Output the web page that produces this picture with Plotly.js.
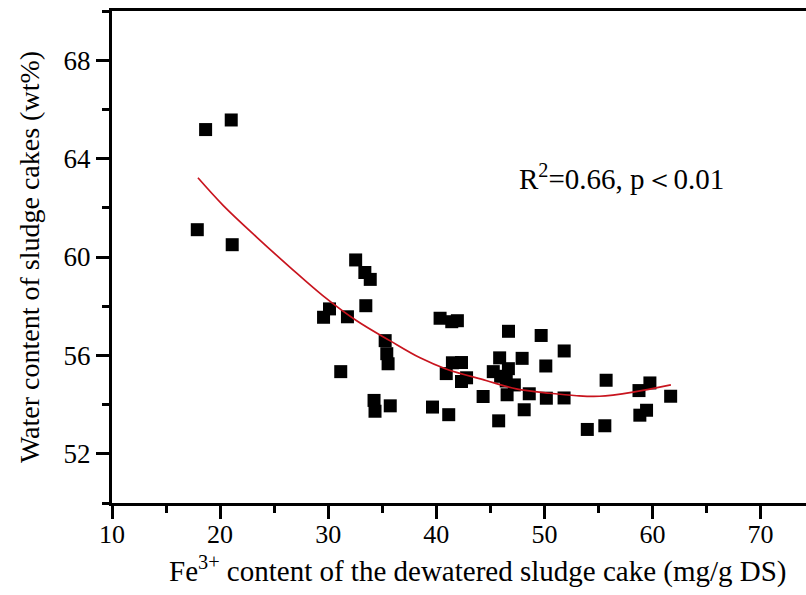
<!DOCTYPE html>
<html>
<head>
<meta charset="utf-8">
<script src="https://cdn.plot.ly/plotly-3.0.1.min.js"></script>
<style>html,body{margin:0;padding:0;background:#fff;}#chart{width:806px;height:595px;}</style>
</head>
<body>
<div id="chart"></div>
<script>
// Measured samples: Fe3+ content (mg/g DS) vs water content (wt%)
const feContent = [17.89, 18.66, 21.03, 21.12, 29.57, 30.12, 31.78, 31.16, 32.54, 33.39, 33.89, 33.48,
  34.24, 34.33, 35.27, 35.42, 35.54, 35.74, 39.65, 40.35, 41.43, 41.95, 40.92, 41.15, 41.49, 42.33,
  42.33, 42.80, 44.33, 45.27, 45.86, 45.95, 45.77, 46.47, 46.68, 46.67, 46.55, 47.22, 47.94, 48.13,
  48.60, 49.70, 50.13, 50.18, 51.83, 51.82, 53.97, 55.59, 55.71, 58.75, 58.83, 59.45, 59.76, 61.68];
const waterContent = [61.11, 65.18, 65.57, 60.50, 57.55, 57.89, 57.57, 55.34, 59.88, 59.37, 59.09, 58.02,
  54.17, 53.73, 56.60, 56.07, 55.66, 53.95, 53.90, 57.51, 57.37, 57.41, 55.26, 53.59, 55.70, 55.71,
  54.94, 55.09, 54.33, 55.34, 55.90, 55.15, 53.34, 54.96, 56.98, 55.46, 54.40, 54.80, 55.88, 53.79,
  54.44, 56.81, 55.57, 54.26, 56.18, 54.27, 52.99, 53.14, 54.99, 54.57, 53.57, 53.77, 54.88, 54.34];

// Fitted curve
const fitX = [17.95, 20.3, 23.4, 26.5, 29.5, 32.6, 35.7, 38.5, 40.9, 44.6, 47.4, 50.5, 53.0, 55.1, 58.2, 61.7];
const fitY = [63.22, 62.09, 60.80, 59.57, 58.43, 57.42, 56.60, 55.90, 55.45, 54.98, 54.64, 54.46, 54.36, 54.34, 54.51, 54.80];

const xTickVals = [10, 20, 30, 40, 50, 60, 70];
const yTickVals = [52, 56, 60, 64, 68];

const xTitle = 'Fe<sup>3+</sup> content of the dewatered sludge cake (mg/g DS)';
const yTitle = 'Water content of sludge cakes (wt%)';
const statText = 'R<sup>2</sup>=0.66, p＜0.01';

const fontFam = 'Liberation Serif, Times New Roman, serif';

const traces = [
  {
    x: feContent, y: waterContent, type: 'scatter', mode: 'markers',
    marker: {symbol: 'square', size: 13, color: '#000000', line: {width: 0}},
    showlegend: false, hoverinfo: 'x+y'
  },
  {
    x: fitX, y: fitY, type: 'scatter', mode: 'lines',
    line: {color: '#c8141e', width: 1.7, shape: 'spline', smoothing: 1},
    showlegend: false, hoverinfo: 'skip'
  }
];

const layout = {
  width: 806, height: 595,
  margin: {l: 112, r: 0, t: 11, b: 92, pad: 0},
  paper_bgcolor: '#ffffff', plot_bgcolor: '#ffffff',
  font: {family: fontFam, color: '#000000', size: 26},
  showlegend: false,
  xaxis: {
    range: [10, 74.2], autorange: false,
    tickmode: 'array', tickvals: xTickVals,
    ticks: 'outside', ticklen: 13, tickwidth: 3, tickcolor: '#000',
    minor: {dtick: 5, tick0: 0, ticks: 'outside', ticklen: 7, tickwidth: 3, tickcolor: '#000', showgrid: false},
    showline: true, linewidth: 3, linecolor: '#000', mirror: true,
    showgrid: false, zeroline: false,
    tickfont: {family: fontFam, size: 26, color: '#000'},
    ticklabelstandoff: -7,
    automargin: false
  },
  yaxis: {
    range: [50, 70], autorange: false,
    tickmode: 'array', tickvals: yTickVals,
    ticks: 'outside', ticklen: 13, tickwidth: 3, tickcolor: '#000',
    minor: {dtick: 2, tick0: 0, ticks: 'outside', ticklen: 7, tickwidth: 3, tickcolor: '#000', showgrid: false},
    showline: true, linewidth: 3, linecolor: '#000', mirror: false,
    showgrid: false, zeroline: false,
    tickfont: {family: fontFam, size: 27, color: '#000'},
    title: {text: yTitle, font: {family: fontFam, size: 28, color: '#000'}, standoff: 16},
    automargin: false
  },
  annotations: [
    {
      xref: 'x', yref: 'y', x: 57.1, y: 63.25,
      text: statText,
      showarrow: false, xanchor: 'center', yanchor: 'middle',
      font: {family: fontFam, size: 29, color: '#000'}
    },
    {
      xref: 'paper', yref: 'paper', x: 0.527, y: -0.136,
      text: xTitle,
      showarrow: false, xanchor: 'center', yanchor: 'middle',
      font: {family: fontFam, size: 29, color: '#000'}
    }
  ]
};

Plotly.newPlot('chart', traces, layout, {displayModeBar: false, staticPlot: true});
</script>
</body>
</html>
